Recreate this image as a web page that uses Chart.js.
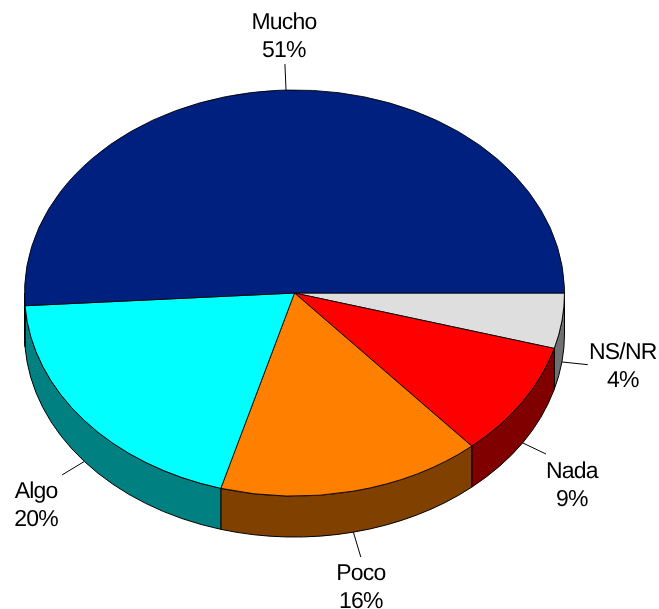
<!DOCTYPE html>
<html>
<head>
<meta charset="utf-8">
<title>Pie</title>
<script src="https://cdn.jsdelivr.net/npm/chart.js@4"></script>
<style>
    html, body { margin: 0; padding: 0; background: #ffffff; }
    canvas { display: block; }
</style>
</head>
<body>
<canvas id="pieChart" width="659" height="609"></canvas>
<script>
// Clockwise from 3 o'clock
const categories = ['NS/NR', 'Nada', 'Poco', 'Algo', 'Mucho'];
const values = [4.4, 9.2, 15.8, 19.6, 51];
const percentLabels = ['4%', '9%', '16%', '20%', '51%'];
const sliceColors = ['#DEDEDE', '#FF0000', '#FF8000', '#00FFFF', '#002080'];
const wallColors = ['#707070', '#800000', '#804000', '#008080', '#001040'];

// Text centre relative to the outer end of each leader line
const labelOffsets = [[35, -12], [26, 18], [0, 17], [-26, 17], [-1, -41]];

// Tilted pie: the flat Chart.js pie gets squashed around this centre
const tilt = { centerY: 293, squash: 0.752, depth: 41, leader: 26, lineHeight: 28 };

function ellipseOf(chart) {
    const arc = chart.getDatasetMeta(0).data[0];
    return { x: arc.x, y: tilt.centerY, rx: arc.outerRadius, ry: arc.outerRadius * tilt.squash };
}

const tiltPlugin = {
    id: 'tilt',
    // Side walls go under the top face, only the front half is visible
    beforeDatasetsDraw(chart) {
        const ctx = chart.ctx;
        const e = ellipseOf(chart);
        chart.getDatasetMeta(0).data.forEach((arc, i) => {
            const a0 = Math.max(arc.startAngle, 0);
            const a1 = Math.min(arc.endAngle, Math.PI);
            if (a1 <= a0) return;
            ctx.beginPath();
            ctx.ellipse(e.x, e.y, e.rx, e.ry, 0, a0, a1);
            ctx.ellipse(e.x, e.y + tilt.depth, e.rx, e.ry, 0, a1, a0, true);
            ctx.closePath();
            ctx.fillStyle = wallColors[i];
            ctx.fill();
            ctx.strokeStyle = '#000000';
            ctx.lineWidth = 1;
            ctx.stroke();
        });
    },
    beforeDatasetDraw(chart) {
        const ctx = chart.ctx;
        const arc = chart.getDatasetMeta(0).data[0];
        ctx.save();
        ctx.translate(arc.x, tilt.centerY);
        ctx.scale(1, tilt.squash);
        ctx.translate(-arc.x, -arc.y);
    },
    afterDatasetDraw(chart) {
        chart.ctx.restore();
    },
    afterDatasetsDraw(chart) {
        const ctx = chart.ctx;
        const e = ellipseOf(chart);
        chart.getDatasetMeta(0).data.forEach((arc, i) => {
            const mid = (arc.startAngle + arc.endAngle) / 2;
            const px = e.rx * Math.cos(mid);
            const py = e.ry * Math.sin(mid);
            const len = Math.hypot(px, py);
            const x0 = e.x + px;
            const y0 = e.y + py + (Math.sin(mid) > 0 ? tilt.depth : 0);
            const x1 = x0 + px / len * tilt.leader;
            const y1 = y0 + py / len * tilt.leader;

            ctx.beginPath();
            ctx.moveTo(x0, y0);
            ctx.lineTo(x1, y1);
            ctx.strokeStyle = '#000000';
            ctx.lineWidth = 1;
            ctx.stroke();

            const tx = x1 + labelOffsets[i][0];
            const ty = y1 + labelOffsets[i][1];
            ctx.fillStyle = '#000000';
            ctx.font = '23px "Liberation Sans"';
            ctx.letterSpacing = '-0.8px';
            ctx.textRendering = 'geometricPrecision';
            ctx.textAlign = 'center';
            ctx.textBaseline = 'middle';
            ctx.fillText(categories[i], tx, ty);
            ctx.fillText(percentLabels[i], tx, ty + tilt.lineHeight);
        });
    }
};

new Chart(document.getElementById('pieChart'), {
    type: 'pie',
    data: {
        labels: categories,
        datasets: [{
            data: values,
            backgroundColor: sliceColors,
            borderColor: '#000000',
            borderWidth: 1,
            clip: false
        }]
    },
    options: {
        responsive: false,
        animation: false,
        rotation: 90,
        layout: { padding: { left: 24, right: 94 } },
        plugins: {
            legend: { display: false },
            tooltip: { enabled: false }
        }
    },
    plugins: [tiltPlugin]
});
</script>
</body>
</html>
